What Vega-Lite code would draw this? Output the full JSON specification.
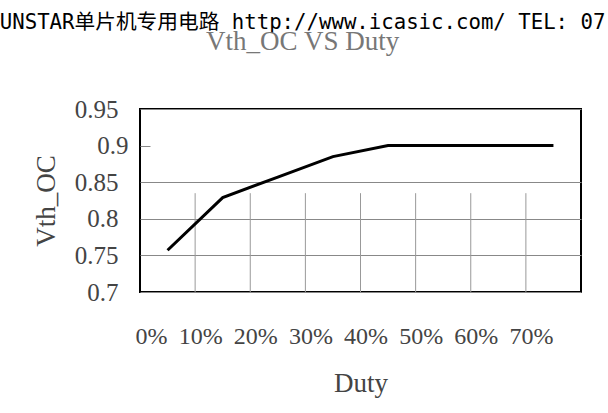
{
  "$schema": "https://vega.github.io/schema/vega-lite/v6.json",
  "width": 441,
  "height": 183,
  "autosize": {"type": "none"},
  "padding": {"left": 140, "top": 109, "right": 27, "bottom": 121},
  "background": "white",
  "title": {
    "text": "UNSTAR单片机专用电路 http://www.icasic.com/ TEL: 07",
    "subtitle": "Vth_OC VS Duty",
    "anchor": "middle",
    "frame": "bounds",
    "dx": -4,
    "font": "DejaVu Sans Mono, Noto Sans CJK SC",
    "fontSize": 20.7,
    "fontWeight": "normal",
    "color": "black",
    "subtitleFont": "Liberation Serif",
    "subtitleFontSize": 27,
    "subtitleColor": "#777777",
    "subtitlePadding": -5,
    "offset": 41
  },
  "config": {
    "view": {"stroke": "black", "strokeWidth": 2},
    "axis": {
      "labelFont": "Liberation Serif",
      "labelFontSize": 25,
      "labelColor": "#444444",
      "labelOverlap": false,
      "titleFont": "Liberation Serif",
      "titleFontSize": 27,
      "titleFontWeight": "normal",
      "titleColor": "#444444"
    }
  },
  "data": {
    "values": [
      {"Duty": "0%", "Vth_OC": 0.757},
      {"Duty": "10%", "Vth_OC": 0.829},
      {"Duty": "20%", "Vth_OC": 0.857},
      {"Duty": "30%", "Vth_OC": 0.885},
      {"Duty": "40%", "Vth_OC": 0.9},
      {"Duty": "50%", "Vth_OC": 0.9},
      {"Duty": "60%", "Vth_OC": 0.9},
      {"Duty": "70%", "Vth_OC": 0.9}
    ]
  },
  "layer": [
    {
      "transform": [{"filter": "datum.Duty != '70%'"}],
      "mark": {"type": "rule", "color": "#999999", "strokeWidth": 1},
      "encoding": {
        "x": {"field": "Duty", "type": "ordinal", "bandPosition": 1, "sort": null},
        "y": {"datum": 0.7},
        "y2": {"datum": 0.835}
      }
    },
    {
      "mark": {"type": "line", "color": "black", "strokeWidth": 3},
      "encoding": {
        "x": {
          "field": "Duty",
          "type": "ordinal",
          "sort": null,
          "bandPosition": 0.5,
          "scale": {"type": "band", "paddingInner": 0, "paddingOuter": 0},
          "axis": {
            "title": "Duty",
            "labelAngle": 0,
            "ticks": false,
            "domain": false,
            "labelFontSize": 24,
            "labelPadding": 44,
            "titlePadding": 22
          }
        },
        "y": {
          "field": "Vth_OC",
          "type": "quantitative",
          "scale": {"domain": [0.7, 0.95], "nice": false, "zero": false},
          "axis": {
            "title": "Vth_OC",
            "values": [0.7, 0.75, 0.8, 0.85, 0.9, 0.95],
            "tickCount": 12,
            "format": ".2~f",
            "domain": false,
            "grid": true,
            "gridColor": "#888888",
            "gridWidth": 1,
            "gridOpacity": {"condition": {"test": "datum.value == 0.9", "value": 0}, "value": 1},
            "ticks": true,
            "tickColor": "#888888",
            "tickSize": {"condition": {"test": "datum.value == 0.9", "value": -10}, "value": 0},
            "labelPadding": 22,
            "titlePadding": 14
          }
        }
      }
    }
  ]
}
